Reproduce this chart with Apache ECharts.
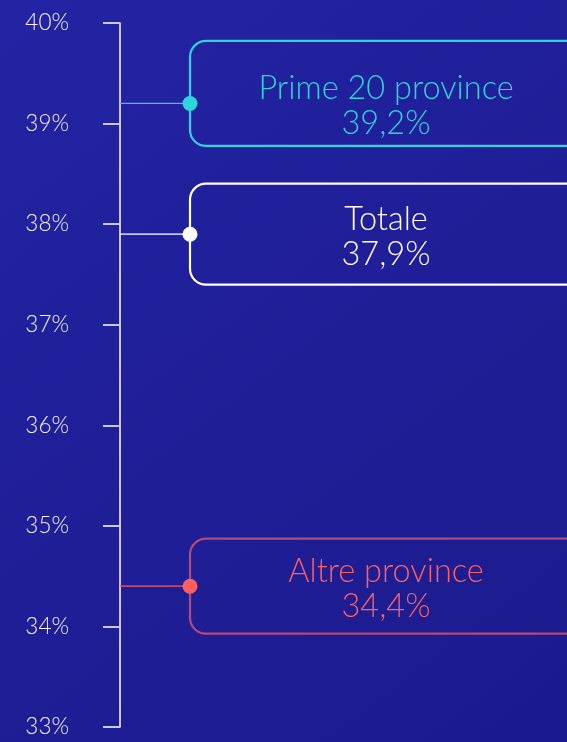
<!DOCTYPE html>
<html>
<head>
<meta charset="utf-8">
<script src="https://cdn.jsdelivr.net/npm/echarts@6/dist/echarts.min.js"></script>
<style>
  html, body { margin: 0; padding: 0; background: #1f1f98; }
  #chart { width: 567px; height: 742px; }
</style>
</head>
<body>
<div id="chart"></div>
<script>
// Share values by group of provinces (percent)
const groups = ['Prime 20 province', 'Totale', 'Altre province'];
const shares = [39.2, 37.9, 34.4];
const axisMin = 33;
const axisMax = 40;
const axisStep = 1;

// Look of each callout: connector, dot, frame and text colours
const looks = [
  { line: '#35c8e0', dot: '#2dd4d8', frame: '#2dd4d8', text: '#2fd3d8', boxH: 105, shift: -10 },
  { line: '#ffffff', dot: '#ffffff', frame: '#ffffff', text: '#ffffff', boxH: 101, shift: 0 },
  { line: '#ff5c5c', dot: '#ff5f5f', frame: '#b24a7c', text: '#ff5f5f', boxH: 95, shift: 0 }
];

const fmt = v => v.toFixed(1).replace('.', ',') + '%';

const chart = echarts.init(document.getElementById('chart'), null, { renderer: 'canvas' });

chart.setOption({
  backgroundColor: new echarts.graphic.LinearGradient(0, 0, 1, 1, [
    { offset: 0, color: '#2423a3' },
    { offset: 1, color: '#1b1a8c' }
  ]),
  animation: false,
  grid: { left: 120, right: 0, top: 23, bottom: 15 },
  xAxis: { type: 'value', min: 0, max: 1, show: false },
  yAxis: {
    type: 'value',
    min: axisMin,
    max: axisMax,
    interval: axisStep,
    position: 'left',
    splitLine: { show: false },
    axisLine: { show: true, lineStyle: { color: '#ffffff', width: 1.5 } },
    axisTick: { show: true, length: 17, lineStyle: { color: '#c8c8ea', width: 2 } },
    axisLabel: {
      color: '#f2f2fc',
      fontSize: 22.5,
      fontFamily: 'Lato',
      fontWeight: 300,
      margin: 51,
      formatter: '{value}%'
    }
  },
  series: [{
    type: 'custom',
    clip: false,
    data: shares.map((v, i) => [0, v, i]),
    renderItem: function (params, api) {
      const i = params.dataIndex;
      const v = api.value(1);
      const p = api.coord([0, v]);
      const L = looks[i];
      const dx = 70;
      const bx = p[0] + dx;
      const boxW = 400;
      const cy = p[1] + L.shift;
      return {
        type: 'group',
        children: [
          { type: 'line', shape: { x1: p[0], y1: p[1], x2: bx, y2: p[1] },
            style: { stroke: L.line, lineWidth: 1.2 } },
          { type: 'rect', shape: { x: bx, y: cy - L.boxH / 2, width: boxW, height: L.boxH, r: 16 },
            style: { fill: 'rgba(0,0,0,0)', stroke: L.frame, lineWidth: 2.2 } },
          { type: 'circle', shape: { cx: bx, cy: p[1], r: 7.5 },
            style: { fill: L.dot } },
          { type: 'text',
            style: {
              text: groups[i] + '\n' + fmt(v),
              x: bx + 196, y: p[1] + 3,
              align: 'center', verticalAlign: 'middle',
              fill: L.text,
              fontFamily: 'Lato', fontWeight: 300, fontSize: 32.5,
              lineHeight: 35
            } }
        ]
      };
    }
  }]
});
</script>
</body>
</html>
